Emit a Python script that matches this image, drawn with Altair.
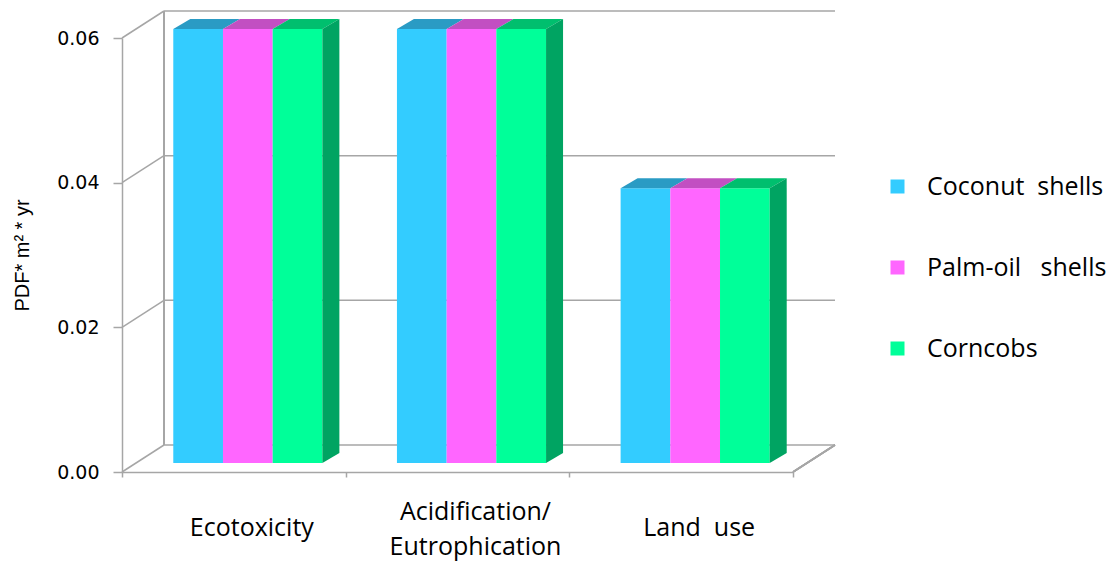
import altair as alt
import pandas as pd

# ---------------- data ----------------
categories = ["Ecotoxicity", "Acidification/\nEutrophication", "Land\u00a0 use"]
series = ["Coconut\u00a0 shells", "Palm-oil\u00a0\u00a0 shells", "Corncobs"]
coconut = [0.060, 0.060, 0.038]
palm_oil = [0.060, 0.060, 0.038]
corncobs = [0.060, 0.060, 0.038]
y_ticks = [0.00, 0.02, 0.04, 0.06]

# ---------------- style ----------------
colors = ["#33CCFF", "#FF66FF", "#00FF99"]
top_colors = ["#2A9BC4", "#C24FC2", "#00BF6E"]
side_color = "#00A462"
grey = "#A6A6A6"

W, H = 671, 434
XMAX, YMAX = len(categories), 0.06
px_x = W / XMAX
px_y = H / YMAX
BAR_W = 49.7 / px_x
DEPTH_X = 17 / px_x
DEPTH_Y = 10 / px_y
BAR_DX, BAR_DY = 14, -9      # bars sit one third into the depth of the box
WALL_DX, WALL_DY = 42, -27   # back wall offset

vals = [coconut, palm_oil, corncobs]
rows_bar, rows_top, rows_side, rows_lab = [], [], [], []
for ci, cat in enumerate(categories):
    rows_lab.append(dict(cat=cat, xc=ci + 0.5))
    for si, s in enumerate(series):
        v = vals[si][ci]
        x0 = ci + 0.5 + (si - len(series) / 2) * BAR_W
        x1 = x0 + BAR_W
        rows_bar.append(dict(cat=cat, series=s, x0=x0, x1=x1, v=v))
        key = f"{ci}-{si}"
        rows_top.append(dict(key=key, tc=top_colors[si], y=v, xl=x0, xr=x1))
        rows_top.append(dict(key=key, tc=top_colors[si], y=v + DEPTH_Y,
                             xl=x0 + DEPTH_X, xr=x1 + DEPTH_X))
        if si == len(series) - 1:
            rows_side.append(dict(cat=cat, x=x1, lo=0.0, hi=v))
            rows_side.append(dict(cat=cat, x=x1 + DEPTH_X, lo=DEPTH_Y, hi=v + DEPTH_Y))

df_bar = pd.DataFrame(rows_bar)
df_top = pd.DataFrame(rows_top)
df_side = pd.DataFrame(rows_side)
df_lab = pd.DataFrame(rows_lab)
df_ticks = pd.DataFrame({"t": y_ticks})

xs = alt.Scale(domain=[0, XMAX], nice=False, zero=False)
ys = alt.Scale(domain=[0, YMAX], nice=False, zero=False)

# back wall gridlines (also carries the front axes)
back_grid = alt.Chart(df_ticks).mark_rule(
    color=grey, strokeWidth=1.5, xOffset=WALL_DX, x2Offset=WALL_DX, yOffset=WALL_DY
).encode(
    y=alt.Y("t:Q", scale=ys,
            axis=alt.Axis(values=y_ticks, format=".2f", grid=False,
                          labelFont="DejaVu Sans", labelFontSize=19, labelColor="#000000",
                          labelPadding=14, tickSize=9, tickColor=grey, tickWidth=1.5,
                          domainColor=grey, domainWidth=1.5,
                          title="PDF* m\u00b2 * yr", titleFont="Liberation Sans",
                          titleFontSize=20, titleFontWeight="normal", titleColor="#000000",
                          titleX=-100, titleY=217, titleAngle=-90,
                          titleAlign="center", titleBaseline="middle")),
    x=alt.datum(0, scale=xs,
                axis=alt.Axis(values=list(range(XMAX + 1)), labels=False, title=None,
                              grid=False, tickSize=5, tickColor=grey, tickWidth=1.5,
                              domainColor=grey, domainWidth=1.5)),
    x2=alt.datum(XMAX),
)

# diagonal connectors from the front axis to the back wall
diag = alt.Chart(df_ticks).mark_rule(
    color=grey, strokeWidth=1.5, x2Offset=WALL_DX, y2Offset=WALL_DY
).encode(
    x=alt.datum(0, scale=xs), x2=alt.datum(0),
    y=alt.Y("t:Q", scale=ys), y2=alt.Y2("t:Q"),
)

back_left = alt.Chart(df_ticks).mark_rule(
    color=grey, strokeWidth=1.5, xOffset=WALL_DX, yOffset=WALL_DY, y2Offset=WALL_DY
).encode(
    x=alt.datum(0, scale=xs),
    y=alt.datum(0, scale=ys), y2=alt.datum(YMAX),
)

floor_right = alt.Chart(df_ticks).mark_rule(
    color=grey, strokeWidth=1.5, x2Offset=WALL_DX, y2Offset=WALL_DY
).encode(
    x=alt.datum(XMAX, scale=xs), x2=alt.datum(XMAX),
    y=alt.datum(0, scale=ys), y2=alt.datum(0),
)

bars = alt.Chart(df_bar).mark_bar(
    xOffset=BAR_DX, x2Offset=BAR_DX, yOffset=BAR_DY, y2Offset=BAR_DY
).encode(
    x=alt.X("x0:Q", scale=xs), x2="x1:Q",
    y=alt.Y("v:Q", scale=ys), y2=alt.datum(0),
    color=alt.Color("series:N",
                    scale=alt.Scale(domain=series, range=colors),
                    legend=alt.Legend(title=None, orient="none", legendX=763, legendY=136,
                                      symbolType="square", symbolSize=196,
                                      symbolStrokeWidth=0, symbolOpacity=1,
                                      labelFont="Open Sans", labelFontSize=25,
                                      labelColor="#000000", labelOffset=17,
                                      rowPadding=55, padding=0, labelLimit=400)),
)

tops = alt.Chart(df_top).mark_area(
    orient="horizontal", xOffset=BAR_DX, x2Offset=BAR_DX, yOffset=BAR_DY
).encode(
    y=alt.Y("y:Q", scale=ys),
    x=alt.X("xl:Q", scale=xs), x2="xr:Q",
    detail="key:N",
    fill=alt.Fill("tc:N", scale=None),
)

sides = alt.Chart(df_side).mark_area(
    orient="vertical", color=side_color, xOffset=BAR_DX,
    yOffset=BAR_DY, y2Offset=BAR_DY
).encode(
    x=alt.X("x:Q", scale=xs),
    y=alt.Y("lo:Q", scale=ys), y2="hi:Q",
    detail="cat:N",
)

label_common = dict(font="Open Sans", fontSize=25, color="#000000", lineBreak="\n",
                    lineHeight=35, align="center", baseline="middle", xOffset=18)

labels_single = alt.Chart(df_lab).transform_filter(
    "indexof(datum.cat, '\\n') < 0"
).mark_text(yOffset=56, **label_common).encode(
    x=alt.X("xc:Q", scale=xs),
    y=alt.datum(0, scale=ys),
    text="cat:N",
)

labels_multi = alt.Chart(df_lab).transform_filter(
    "indexof(datum.cat, '\\n') >= 0"
).mark_text(yOffset=40, **label_common).encode(
    x=alt.X("xc:Q", scale=xs),
    y=alt.datum(0, scale=ys),
    text="cat:N",
)

chart = alt.layer(back_grid, diag, back_left, floor_right, bars, tops, sides,
                  labels_single, labels_multi).properties(
    width=W, height=H,
    padding={"left": 122, "top": 38, "right": 1118 - 122 - W, "bottom": 565 - 38 - H},
    autosize=alt.AutoSizeParams(type="none"),
    background="white",
).configure_view(stroke=None)

chart.save("out.html", embed_options={"renderer": "svg", "actions": False})
